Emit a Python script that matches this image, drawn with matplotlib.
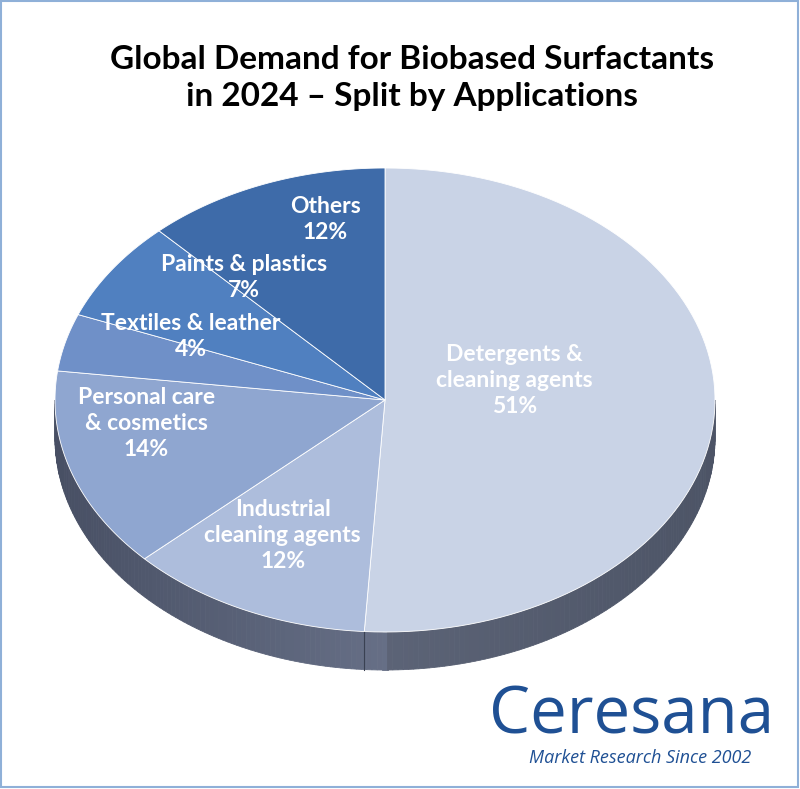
import numpy as np
import matplotlib
matplotlib.use('Agg')
import matplotlib.pyplot as plt
from matplotlib.patches import Polygon, Rectangle

labels = ['Detergents &\ncleaning agents', 'Industrial\ncleaning agents', 'Personal care\n& cosmetics',
          'Textiles & leather', 'Paints & plastics', 'Others']
shares = [51, 12, 14, 4, 7, 12]
colors = ['#c9d3e6', '#adbddc', '#8fa6d0', '#6f90c8', '#5080c0', '#3e6ba9']
# label placement (radius fraction, angle in degrees)
label_pos = [(0.40, 12), (0.66, 242), (0.73, 188), (0.65, 155), (0.68, 129), (0.80, 103)]

cx, cy, rx, ry, depth = 385, 400, 330, 232, 38

fig = plt.figure(figsize=(8, 7.89), dpi=100)
ax = fig.add_axes([0, 0, 1, 1])
ax.set_xlim(0, 800)
ax.set_ylim(789, 0)
ax.axis('off')
ax.add_patch(Rectangle((1, 1), 797, 786, fill=False, ec='#8fb0d8', lw=1.5))

def pt(t, r=1.0, dy=0):
    return (cx + r * rx * np.cos(t), cy - r * ry * np.sin(t) + dy)

# angles, clockwise from top
bounds = np.radians(90 - 3.6 * np.concatenate([[0], np.cumsum(shares)]))

# side of the cylinder (front half only)
ts = np.linspace(np.pi, 2 * np.pi, 200)
for a, b in zip(ts[:-1], ts[1:]):
    m = (a + b) / 2
    f = (np.cos(m) + 1) / 2
    if m > 3 * np.pi / 2:
        c = np.array([0.42, 0.45, 0.53]) * (1 - f) + np.array([0.30, 0.33, 0.40]) * f
    else:
        c = np.array([0.28, 0.31, 0.39]) * (1 - f) + np.array([0.52, 0.56, 0.66]) * f
    poly = [pt(a), pt(b), pt(b, dy=depth), pt(a, dy=depth)]
    ax.add_patch(Polygon(poly, closed=True, fc=c, ec=c, lw=0.6))
tb = bounds[1] % (2 * np.pi)
ax.plot(*zip(pt(tb), pt(tb, dy=depth)), color='#3a4152', lw=0.8)

# top face
for i in range(len(shares)):
    t = np.linspace(bounds[i], bounds[i + 1], 100)
    poly = [(cx, cy)] + [pt(v) for v in t]
    ax.add_patch(Polygon(poly, closed=True, fc=colors[i], ec='white', lw=0.6))
for i in range(len(shares)):
    r, th = label_pos[i]
    x, y = pt(np.radians(th), r)
    ax.text(x, y, f'{labels[i]}\n{shares[i]}%', ha='center', va='center',
            color='white', fontsize=16.5, fontweight='bold', family='Lato', linespacing=1.3)

ax.text(412, 78, 'Global Demand for Biobased Surfactants\nin 2024 \u2013 Split by Applications',
        ha='center', va='center', fontsize=24, fontweight='bold', family='Lato', linespacing=1.35)
ax.text(632, 716, 'Ceresana', ha='center', va='center', fontsize=47, color='#1f5094', family='Open Sans')
ax.text(640, 758, 'Market Research Since 2002', ha='center', va='center', fontsize=13,
        color='#1f5094', style='italic', family='Open Sans')

fig.savefig('out.png', dpi=100, facecolor='white')
